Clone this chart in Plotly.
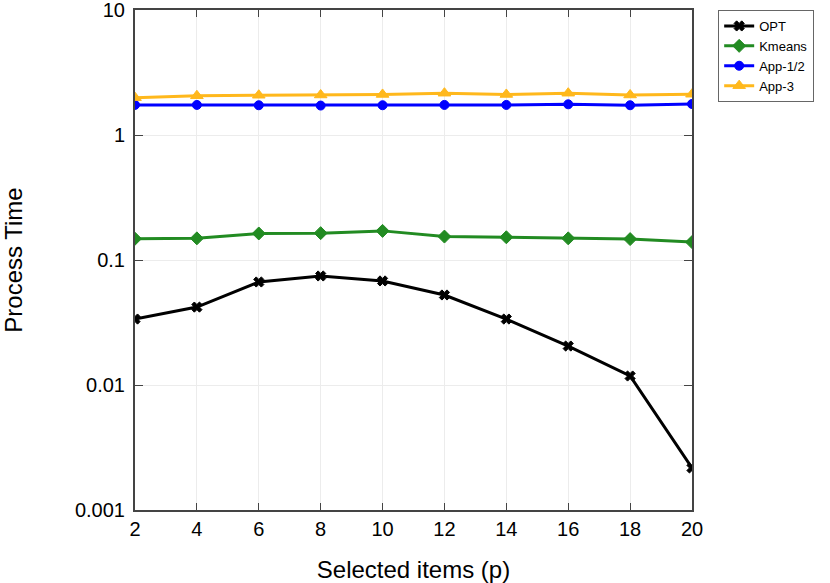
"""Process time vs selected items, log-scale line chart."""

import plotly.graph_objects as go

p_items = [2, 4, 6, 8, 10, 12, 14, 16, 18, 20]

opt_time = [0.0337, 0.042, 0.0667, 0.0745, 0.068, 0.0525, 0.0337, 0.0205, 0.0118, 0.00217]
kmeans_time = [0.148, 0.149, 0.163, 0.164, 0.171, 0.154, 0.152, 0.149, 0.147, 0.139]
app12_time = [1.74, 1.74, 1.73, 1.72, 1.73, 1.74, 1.74, 1.76, 1.73, 1.77]
app3_time = [1.99, 2.06, 2.08, 2.09, 2.11, 2.16, 2.11, 2.16, 2.09, 2.12]

series = [
    ("OPT", opt_time, "#000000", "x", 9),
    ("Kmeans", kmeans_time, "#228B22", "diamond", 10),
    ("App-1/2", app12_time, "#0000FF", "circle", 9),
    ("App-3", app3_time, "#FFB81C", "triangle-up", 11),
]

# minor ticks 2..9 in every decade, drawn on an overlaid tick-only axis
y_minor = [m * d for d in [0.001, 0.01, 0.1, 1] for m in range(2, 10)]

fig = go.Figure()
for name, vals, color, symbol, size in series:
    fig.add_trace(
        go.Scatter(
            x=p_items, y=vals, name=name, mode="lines+markers",
            line=dict(color=color, width=3),
            marker=dict(symbol=symbol, size=size, color=color,
                        line=dict(width=1, color=color)),
        )
    )

fig.update_layout(
    width=830,
    height=583,
    paper_bgcolor="white",
    plot_bgcolor="white",
    font=dict(family="Liberation Sans, Arial, sans-serif", size=20, color="black"),
    margin=dict(l=135, r=138, t=10, b=73, autoexpand=False),
    showlegend=True,
    legend=dict(
        x=1.047, y=1.0, xanchor="left", yanchor="top",
        font=dict(size=13), bordercolor="#666666", borderwidth=1,
        bgcolor="white", tracegroupgap=0, itemwidth=30,
    ),
    yaxis2=dict(
        type="log", range=[-3, 1], overlaying="y", anchor="x", side="left",
        tickmode="array", tickvals=y_minor, ticks="inside", ticklen=4,
        tickwidth=1, tickcolor="#444444", mirror="ticks",
        showticklabels=False, showgrid=False, showline=False, zeroline=False,
        automargin=False,
    ),
)
fig.update_xaxes(
    title_text="Selected items (p)", range=[2, 20], tickvals=p_items,
    showgrid=True, gridcolor="#ececec", gridwidth=1,
    showline=True, linecolor="#444444", linewidth=2, mirror="ticks",
    ticks="inside", ticklen=7, tickcolor="#444444", zeroline=False,
    title_standoff=22, automargin=False, ticklabeloverflow="allow",
)
fig.update_yaxes(
    selector=dict(overlaying=None),
    title_text="Process Time", type="log", range=[-3, 1],
    tickmode="linear", tick0=0, dtick=1,
    showgrid=True, gridcolor="#ececec", gridwidth=1,
    showline=True, linecolor="#444444", linewidth=2, mirror="ticks",
    ticks="inside", ticklen=8, tickcolor="#444444", zeroline=False,
    ticklabelstandoff=4,
    title_standoff=47, automargin=False, ticklabeloverflow="allow",
)

fig.write_html(
    "out.html",
    config={"displayModeBar": False},
    post_script="document.body.style.margin='0';",
)
